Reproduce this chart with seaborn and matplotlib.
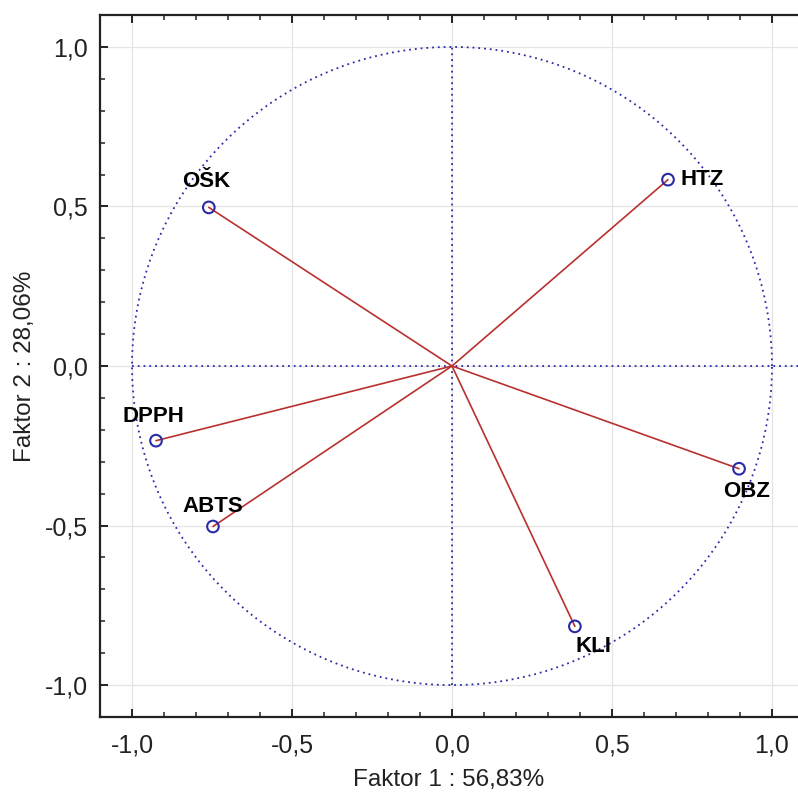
import matplotlib
matplotlib.use("Agg")
import matplotlib.pyplot as plt
import numpy as np
import pandas as pd
import seaborn as sns

# ----- data ------------------------------------------------------------------
VARS = ["OŠK", "HTZ", "DPPH", "ABTS", "OBZ", "KLI"]
F1 = [-0.76, 0.675, -0.925, -0.747, 0.897, 0.384]
F2 = [0.497, 0.584, -0.234, -0.503, -0.322, -0.816]
TICKS = [-1.0, -0.5, 0.0, 0.5, 1.0]
TICK_LABELS = ["-1,0", "-0,5", "0,0", "0,5", "1,0"]
XLABEL = "Faktor 1 : 56,83%"
YLABEL = "Faktor 2 : 28,06%"

# label offsets in pixels (dx, dy, ha)
LBL_OFF = {"OŠK": (-3, 26, "center"), "HTZ": (13, 0, "left"),
           "DPPH": (-3, 24, "center"), "ABTS": (0, 20, "center"),
           "OBZ": (8, -23, "center"), "KLI": (19, -20, "center")}

BLUE = "#2b2ba6"
RED = "#b8312f"
DARK = "#222222"

sns.set_style("white")
plt.rcParams["font.family"] = ["Liberation Sans", "DejaVu Sans"]

df = pd.DataFrame({"var": VARS, "f1": F1, "f2": F2})

fig = plt.figure(figsize=(7.98, 7.92), dpi=100)
ax = fig.add_axes([100 / 798, 1 - 717 / 792, 698 / 798, 702 / 792])

# grid
for t in TICKS:
    ax.axvline(t, color="#e4e4e4", lw=0.9, zorder=0)
    ax.axhline(t, color="#e4e4e4", lw=0.9, zorder=0)

# unit circle + axes lines
th = np.linspace(0, 2 * np.pi, 400)
ax.plot(np.cos(th), np.sin(th), ls=(0, (1, 2.2)), color=BLUE, lw=1.3, zorder=1)
ax.plot([0, 0], [-1, 1], ls=(0, (1, 2.2)), color=BLUE, lw=1.3, zorder=1)
ax.plot([-1, 1.1], [0, 0], ls=(0, (1, 2.2)), color=BLUE, lw=1.3, zorder=1)

# vectors
for _, r in df.iterrows():
    ax.plot([0, r.f1], [0, r.f2], color=RED, lw=1.2, zorder=2)

sns.scatterplot(data=df, x="f1", y="f2", ax=ax, s=70, marker="o",
                facecolor="none", edgecolor=BLUE, linewidth=1.5, zorder=3)

for _, r in df.iterrows():
    dx, dy, ha = LBL_OFF[r["var"]]
    ax.annotate(r["var"], (r.f1, r.f2), xytext=(dx * 0.72, dy * 0.72),
                textcoords="offset points", ha=ha, va="center",
                fontsize=16, fontweight="bold", color="black", zorder=4)

ax.set_xlim(-1.1, -1.1 + 698 / 320)
ax.set_ylim(-1.1, 1.1)
ax.set_xticks(TICKS)
ax.set_xticklabels(TICK_LABELS)
ax.set_yticks(TICKS)
ax.set_yticklabels(TICK_LABELS)
ax.set_xticks(np.arange(-1.0, 1.05, 0.1), minor=True)
ax.set_yticks(np.arange(-1.0, 1.05, 0.1), minor=True)
ax.tick_params(which="both", bottom=True, top=True, left=True, right=False,
               direction="in", color=DARK)
ax.tick_params(which="major", length=6, width=1.4, labelsize=18,
               labelcolor=DARK)
ax.tick_params(which="minor", length=3.5, width=1.1)
ax.tick_params(axis="x", pad=12)
ax.tick_params(axis="y", pad=9)
ax.set_xlabel(XLABEL, fontsize=17.5, labelpad=8, color=DARK)
ax.set_ylabel(YLABEL, fontsize=17.5, labelpad=6, color=DARK)

for s in ["left", "top", "bottom"]:
    ax.spines[s].set_color(DARK)
    ax.spines[s].set_linewidth(1.6)
ax.spines["right"].set_visible(False)

fig.savefig("out.png", dpi=100)
